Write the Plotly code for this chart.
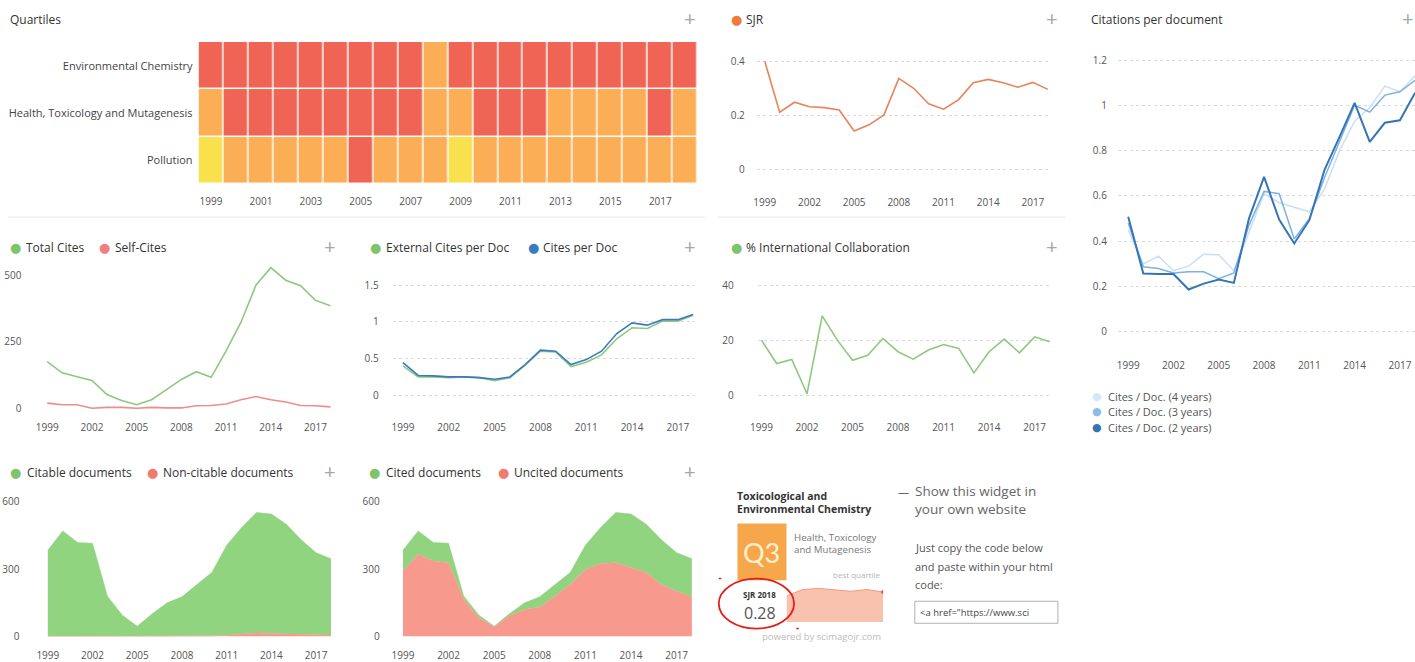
import plotly.graph_objects as go

W, H = 1415, 662
FONT = "Open Sans"

# ---------------- data ----------------
years = list(range(1999, 2019))

quartile_categories = ["Environmental Chemistry", "Health, Toxicology and Mutagenesis", "Pollution"]
# 2 = Q2, 3 = Q3, 4 = Q4
q_env_chem = [4, 4, 4, 4, 4, 4, 4, 4, 4, 3, 4, 4, 4, 4, 4, 4, 4, 4, 4, 4]
q_health_tox = [3, 4, 4, 4, 4, 4, 4, 4, 4, 3, 3, 4, 4, 4, 3, 3, 3, 3, 4, 3]
q_pollution = [2, 3, 3, 3, 3, 3, 4, 3, 3, 3, 2, 3, 3, 3, 3, 3, 3, 3, 3, 3]

sjr = [0.402, 0.212, 0.249, 0.232, 0.229, 0.220, 0.142, 0.165, 0.202, 0.338,
       0.301, 0.243, 0.223, 0.258, 0.322, 0.334, 0.322, 0.305, 0.323, 0.297]

cites_doc_4y = [0.45, 0.30, 0.334, 0.27, 0.29, 0.343, 0.34, 0.27, 0.44, 0.61,
                0.57, 0.55, 0.53, 0.63, 0.80, 0.93, 0.99, 1.085, 1.06, 1.13]
cites_doc_3y = [0.48, 0.287, 0.28, 0.26, 0.265, 0.265, 0.235, 0.26, 0.47, 0.62,
                0.61, 0.41, 0.50, 0.68, 0.84, 1.00, 0.97, 1.045, 1.06, 1.11]
cites_doc_2y = [0.508, 0.258, 0.255, 0.255, 0.187, 0.213, 0.231, 0.216, 0.50, 0.684,
                0.496, 0.39, 0.493, 0.714, 0.861, 1.011, 0.839, 0.923, 0.934, 1.055]

total_cites = [175, 133, 118, 104, 51, 29, 13, 32, 70, 108,
               137, 116, 215, 323, 462, 528, 481, 460, 405, 385]
self_cites = [19, 13, 13, 0, 3, 3, 0, 3, 1, 1, 9, 10, 16, 32, 44, 32, 23, 10, 9, 5]

external_cites_per_doc = [0.40, 0.25, 0.25, 0.24, 0.25, 0.24, 0.20, 0.24, 0.41, 0.60,
                          0.59, 0.39, 0.45, 0.55, 0.77, 0.92, 0.91, 1.01, 1.01, 1.09]
cites_per_doc = [0.445, 0.27, 0.264, 0.25, 0.25, 0.24, 0.218, 0.25, 0.418, 0.614,
                 0.60, 0.418, 0.486, 0.60, 0.84, 0.986, 0.955, 1.03, 1.03, 1.10]

intl_collab = [20, 11.5, 13, 0.5, 28.8, 20, 12.7, 14.5, 20.6, 15.8,
               13.1, 16.4, 18.4, 17, 8.1, 15.8, 20.4, 15.4, 21.2, 19.4]

citable_docs = [384, 470, 418, 415, 179, 94, 45, 100, 149, 176,
                231, 282, 401, 475, 537, 533, 490, 422, 366, 340]
non_citable_docs = [0, 0, 0, 0, 0, 0, 0, 0, 0, 0, 0, 2, 5, 10, 15, 12, 10, 8, 7, 6]
cited_docs = [94, 104, 82, 87, 15, 12, 3, 10, 30, 45,
              52, 53, 107, 161, 224, 239, 216, 199, 172, 170]
uncited_docs = [290, 366, 336, 328, 164, 82, 42, 90, 119, 131,
                179, 231, 299, 324, 328, 306, 284, 231, 201, 176]

heat_xticks = [1999, 2001, 2003, 2005, 2007, 2009, 2011, 2013, 2015, 2017]
line_xticks = [1999, 2002, 2005, 2008, 2011, 2014, 2017]
sjr_yticks = [0, 0.2, 0.4]
cpd_yticks = [0, 0.2, 0.4, 0.6, 0.8, 1, 1.2]
cites_yticks = [0, 250, 500]
ext_yticks = [0, 0.5, 1, 1.5]
intl_yticks = [0, 20, 40]
docs_yticks = [0, 300, 600]
sjr_year_label = "SJR 2018"
sjr_value_label = "0.28"

# ---------------- colours ----------------
Q_YELLOW, Q_ORANGE, Q_RED = "#F8E14C", "#FBAE55", "#EF6455"
GREEN_LINE = "#8CC97E"
GREEN_AREA = "#90D47F"
PINK_LINE = "#F08C8C"
PINK_AREA = "#F8998E"
BLUE = "#3A7BBE"
SJR_COL = "#E8835A"
TICKFONT = dict(family=FONT, size=10, color="#555")
TITLE_SIZE = 12

# small correction between layout pixels and the photographed picture
SX, SY = 0.994, 0.992


def cx(x):
    return W - (W - x) / SX


def cy(y):
    return y / SY


# ---------------- helpers (pixel layout) ----------------
def dom_x(l, r):
    return [max(0.0, cx(l) / W), min(1.0, cx(r) / W)]


def dom_y(top, bottom):
    return [max(0.0, 1 - cy(bottom) / H), min(1.0, 1 - cy(top) / H)]


def xr(l, r, p99, step):
    return [1999 + (l - p99) / step, 1999 + (r - p99) / step]


def yr(v0, p0, v1, p1, bottom, top):
    s = (v1 - v0) / (p1 - p0)
    return [v0 + (bottom - p0) * s, v0 + (top - p0) * s]


def xax(l, r, p99, step, ticks, bottom_pad=0, **kw):
    d = dict(domain=dom_x(l, r), range=xr(l, r, p99, step), tickvals=ticks,
             showline=False, zeroline=False, showgrid=False, ticks="",
             tickfont=TICKFONT, fixedrange=True, ticklabelstandoff=bottom_pad)
    d.update(kw)
    return d


def yax(top, bottom, v0, p0, v1, p1, ticks, standoff, grid=True, **kw):
    d = dict(domain=dom_y(top, bottom), range=yr(v0, p0, v1, p1, bottom, top),
             tickvals=ticks, showline=False, zeroline=False, showgrid=grid,
             gridcolor="#dadada", griddash="dot", gridwidth=1, ticks="",
             tickfont=TICKFONT, fixedrange=True, ticklabelstandoff=standoff)
    d.update(kw)
    return d


fig = go.Figure()

# ---- Quartiles heatmap ----
fig.add_trace(go.Heatmap(
    x=years, y=quartile_categories,
    z=[q_env_chem, q_health_tox, q_pollution],
    zmin=2, zmax=4,
    colorscale=[[0, Q_YELLOW], [0.5, Q_ORANGE], [1, Q_RED]],
    showscale=False, xgap=1.5, ygap=1.5, xaxis="x", yaxis="y", hoverinfo="skip"))

# ---- SJR ----
fig.add_trace(go.Scatter(x=years, y=sjr, mode="lines", line=dict(color=SJR_COL, width=1.6),
                         xaxis="x2", yaxis="y2"))

# ---- Citations per document ----
fig.add_trace(go.Scatter(x=years, y=cites_doc_4y, mode="lines", line=dict(color="#C9E0F4", width=1.5),
                         xaxis="x3", yaxis="y3"))
fig.add_trace(go.Scatter(x=years, y=cites_doc_3y, mode="lines", line=dict(color="#7DB1E3", width=1.5),
                         xaxis="x3", yaxis="y3"))
fig.add_trace(go.Scatter(x=years, y=cites_doc_2y, mode="lines", line=dict(color="#3575B5", width=2),
                         xaxis="x3", yaxis="y3"))

# ---- Total cites / self cites ----
fig.add_trace(go.Scatter(x=years, y=total_cites, mode="lines", line=dict(color=GREEN_LINE, width=1.6),
                         xaxis="x4", yaxis="y4"))
fig.add_trace(go.Scatter(x=years, y=self_cites, mode="lines", line=dict(color=PINK_LINE, width=1.6),
                         xaxis="x4", yaxis="y4"))

# ---- External cites per doc / cites per doc ----
fig.add_trace(go.Scatter(x=years, y=external_cites_per_doc, mode="lines",
                         line=dict(color=GREEN_LINE, width=1.6), xaxis="x5", yaxis="y5"))
fig.add_trace(go.Scatter(x=years, y=cites_per_doc, mode="lines",
                         line=dict(color=BLUE, width=1.6), xaxis="x5", yaxis="y5"))

# ---- International collaboration ----
fig.add_trace(go.Scatter(x=years, y=intl_collab, mode="lines", line=dict(color=GREEN_LINE, width=1.6),
                         xaxis="x6", yaxis="y6"))

# ---- Citable / non-citable (stacked areas) ----
fig.add_trace(go.Scatter(x=years, y=non_citable_docs, mode="lines", stackgroup="cit",
                         line=dict(color=PINK_AREA, width=0.5), fillcolor=PINK_AREA,
                         xaxis="x7", yaxis="y7"))
fig.add_trace(go.Scatter(x=years, y=citable_docs, mode="lines", stackgroup="cit",
                         line=dict(color=GREEN_AREA, width=0.5), fillcolor=GREEN_AREA,
                         xaxis="x7", yaxis="y7"))

# ---- Cited / uncited (stacked areas) ----
fig.add_trace(go.Scatter(x=years, y=uncited_docs, mode="lines", stackgroup="cd",
                         line=dict(color=PINK_AREA, width=0.5), fillcolor=PINK_AREA,
                         xaxis="x8", yaxis="y8"))
fig.add_trace(go.Scatter(x=years, y=cited_docs, mode="lines", stackgroup="cd",
                         line=dict(color=GREEN_AREA, width=0.5), fillcolor=GREEN_AREA,
                         xaxis="x8", yaxis="y8"))

# ---- widget sparkline ----
fig.add_trace(go.Scatter(x=years[13:], y=sjr[13:], mode="lines", fill="tozeroy",
                         line=dict(color="#EE9C7E", width=1), fillcolor="#F9C2AE",
                         xaxis="x9", yaxis="y9"))
fig.add_trace(go.Scatter(x=years[-1:], y=sjr[-1:], mode="markers",
                         marker=dict(color="#E0544A", size=4), xaxis="x9", yaxis="y9"))

layout = dict(
    width=W, height=H, margin=dict(l=0, r=0, t=0, b=0),
    paper_bgcolor="white", plot_bgcolor="rgba(0,0,0,0)", showlegend=False,
    font=dict(family=FONT),
    # heatmap
    xaxis=dict(domain=dom_x(199, 698), range=[1998.5, 2018.5], tickvals=heat_xticks,
               showgrid=False, zeroline=False, showline=False, ticks="", tickfont=TICKFONT,
               fixedrange=True, anchor="y", ticklabelstandoff=10),
    yaxis=dict(domain=dom_y(42, 184), autorange="reversed", showgrid=False, zeroline=False,
               showline=False, ticks="", tickfont=dict(family=FONT, size=11, color="#444"),
               fixedrange=True, anchor="x", ticklabelstandoff=5),
    # SJR
    xaxis2=xax(757, 1051, 765, 14.89, line_xticks, anchor="y2", bottom_pad=7),
    yaxis2=yax(40, 188, 0, 169, 0.4, 61.7, sjr_yticks, 11, anchor="x2"),
    # Citations per document
    xaxis3=xax(1118, 1415, 1128.3, 15.09, line_xticks, anchor="y3", bottom_pad=7),
    yaxis3=yax(45, 351, 0, 331.7, 1.2, 60, cpd_yticks, 10, anchor="x3"),
    # Total cites
    xaxis4=xax(35, 334, 47.7, 14.9, line_xticks, anchor="y4", bottom_pad=4),
    yaxis4=yax(262, 416, 0, 408, 500, 275, cites_yticks, 12, grid=False, anchor="x4"),
    # External cites per doc
    xaxis5=xax(393, 695, 403.3, 15.27, line_xticks, anchor="y5", bottom_pad=4),
    yaxis5=yax(262, 416, 1.0, 321.7, 1.5, 285, ext_yticks, 13, anchor="x5"),
    # International collaboration
    xaxis6=xax(758, 1051, 761.7, 15.17, line_xticks, anchor="y6", bottom_pad=4),
    yaxis6=yax(262, 416, 20, 340, 40, 285, intl_yticks, 23, anchor="x6"),
    # Citable docs
    xaxis7=xax(35, 334, 48.3, 14.9, line_xticks, anchor="y7", bottom_pad=5),
    yaxis7=yax(488, 643, 0, 636, 600, 501.5, docs_yticks, 14, grid=False, anchor="x7"),
    # Cited docs
    xaxis8=xax(393, 695, 403.3, 15.2, line_xticks, anchor="y8", bottom_pad=5),
    yaxis8=yax(488, 643, 0, 636, 600, 501.5, docs_yticks, 12, grid=False, anchor="x8"),
    # widget sparkline
    xaxis9=dict(domain=dom_x(786.7, 883.3), range=[years[13], years[-1]], visible=False,
                fixedrange=True, anchor="y9"),
    yaxis9=dict(domain=dom_y(585, 621.7), range=[0, 0.365], visible=False, fixedrange=True,
                anchor="x9"),
)

ann = []
shapes = []


def txt(x, y, text, size=11, color="#333", xanchor="left", family=FONT, **kw):
    ann.append(dict(xref="paper", yref="paper", x=cx(x) / W, y=1 - cy(y) / H, text=text,
                    showarrow=False, xanchor=xanchor, yanchor="middle", borderpad=0,
                    font=dict(size=size, color=color, family=family), **kw))


def dot(x, y, color, size=13):
    txt(x, y, "●", size=size, color=color, xanchor="center", family="DejaVu Sans")


def rect(x0, y0, x1, y1, fill=None, line=None, width=1):
    shapes.append(dict(type="rect", xref="paper", yref="paper", x0=cx(x0) / W, x1=cx(x1) / W,
                       y0=1 - cy(y1) / H, y1=1 - cy(y0) / H,
                       fillcolor=fill if fill else "rgba(0,0,0,0)",
                       line=dict(color=line if line else "rgba(0,0,0,0)", width=width),
                       layer="above"))


def hline(x0, x1, y, color="#e6e6e6"):
    shapes.append(dict(type="line", xref="paper", yref="paper", x0=max(0, cx(x0)) / W,
                       x1=cx(x1) / W, y0=1 - cy(y) / H, y1=1 - cy(y) / H,
                       line=dict(color=color, width=1)))


# panel titles / legends
txt(9, 19, "Quartiles", size=TITLE_SIZE)
dot(737, 19, "#EE7B3A")
txt(745, 19, "SJR", size=TITLE_SIZE)
txt(1090, 19, "Citations per document", size=TITLE_SIZE)

dot(16, 247, "#7EC46D")
txt(25, 247, "Total Cites", size=TITLE_SIZE)
dot(105, 247, "#F08080")
txt(114, 247, "Self-Cites", size=TITLE_SIZE)

dot(376, 247, "#7EC46D")
txt(385, 247, "External Cites per Doc", size=TITLE_SIZE)
dot(534, 247, BLUE)
txt(542, 247, "Cites per Doc", size=TITLE_SIZE)

dot(737, 247, "#7EC46D")
txt(745, 247, "% International Collaboration", size=TITLE_SIZE)

dot(16, 472, "#7EC46D")
txt(26, 472, "Citable documents", size=TITLE_SIZE)
dot(153, 472, "#F07A6E")
txt(162, 472, "Non-citable documents", size=TITLE_SIZE)

dot(375, 472, "#7EC46D")
txt(385, 472, "Cited documents", size=TITLE_SIZE)
dot(504, 472, "#F07A6E")
txt(513, 472, "Uncited documents", size=TITLE_SIZE)

# Citations per doc legend (below the chart)
dot(1097, 396, "#D6E8F7", size=11)
txt(1107, 396, "Cites / Doc. (4 years)", size=11, color="#555")
dot(1097, 411, "#8DBCE8", size=11)
txt(1107, 411, "Cites / Doc. (3 years)", size=11, color="#555")
dot(1097, 427, "#3575B5", size=11)
txt(1107, 427, "Cites / Doc. (2 years)", size=11, color="#555")

# "+" icons
for px, py in [(690, 18), (1052, 18), (1408, 18), (330, 246), (690, 246), (1052, 246),
               (330, 471), (690, 471)]:
    txt(px, py, "+", size=20, color="#a8a8a8", xanchor="center", family="Lato")

# separators
hline(0, 705, 217)
hline(718, 1065, 217)

# ---- widget ----
txt(736, 496, "<b>Toxicological and</b>", size=10.5, color="#333")
txt(736, 509, "<b>Environmental Chemistry</b>", size=10.5, color="#333")
rect(737.7, 523.3, 786.7, 580, fill="#F6A74C")
txt(762, 552, "Q3", size=27, color="#FFF1CF", xanchor="center", family="Lato")
txt(793, 537, "Health, Toxicology", size=9.7, color="#777")
txt(793, 549, "and Mutagenesis", size=9.7, color="#777")
txt(882, 574, "best quartile", size=8, color="#b5b5b5", xanchor="right")
txt(760, 595, "<b>" + sjr_year_label + "</b>", size=8, color="#333", xanchor="center")
txt(760, 613, sjr_value_label, size=16, color="#555", xanchor="center")
txt(822, 636, "powered by scimagojr.com", size=9.5, color="#bdbdbd", xanchor="center")
shapes.append(dict(type="circle", xref="paper", yref="paper", x0=cx(719) / W, x1=cx(794.3) / W,
                   y0=1 - cy(628.3) / H, y1=1 - cy(578.3) / H,
                   line=dict(color="#E51E17", width=1.8)))
rect(719, 577.5, 721.5, 579, fill="#E51E17")
rect(796.5, 627.5, 799, 629, fill="#E51E17")

txt(897, 491, "—", size=11, color="#666")
txt(914, 491, "Show this widget in", size=13.5, color="#666")
txt(914, 509, "your own website", size=13.5, color="#666")
txt(914, 547, "Just copy the code below", size=11, color="#555")
txt(914, 566, "and paste within your html", size=11, color="#555")
txt(914, 584, "code:", size=11, color="#555")
rect(915, 601, 1058, 623, line="#b0b0b0")
txt(919, 612, '&lt;a href="https://www.sci', size=9.5, color="#444")

layout["annotations"] = ann
layout["shapes"] = shapes
fig.update_layout(**layout)

fig.write_html(
    "out.html",
    config={"displayModeBar": False},
    post_script="document.body.style.margin='0px';document.body.style.padding='0px';"
                "document.body.style.overflow='hidden';",
)
